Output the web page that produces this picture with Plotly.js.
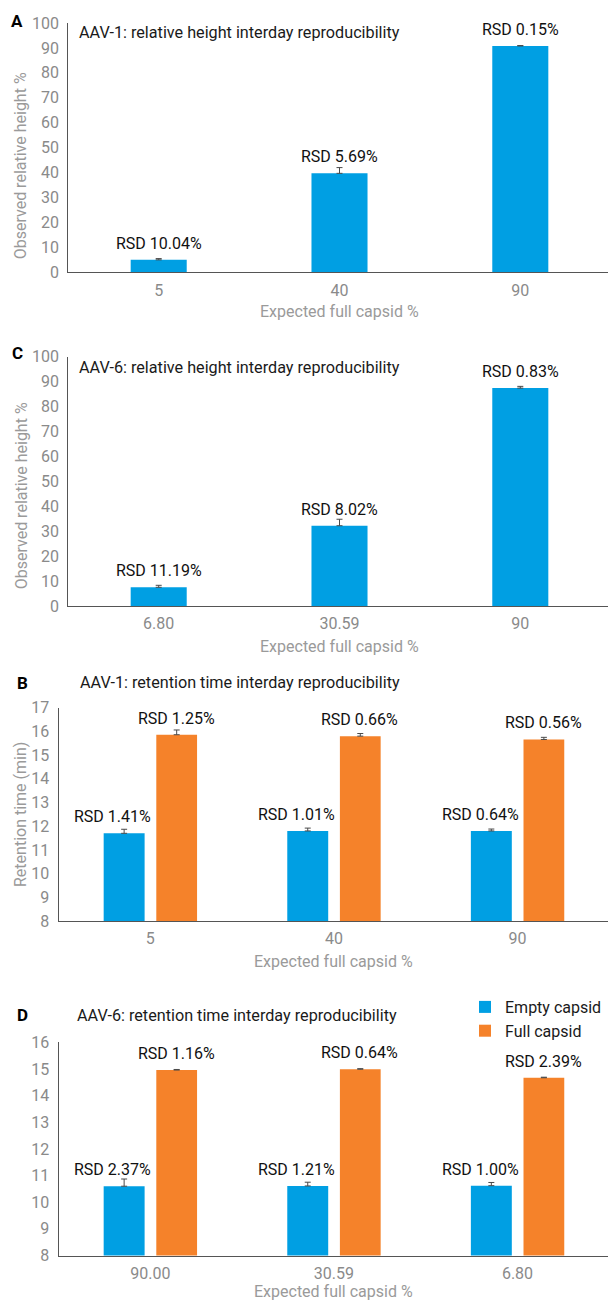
<!DOCTYPE html>
<html>
<head>
<meta charset="utf-8">
<script src="https://cdn.plot.ly/plotly-3.0.1.min.js"></script>
<style>html,body{margin:0;padding:0;background:#fff;}#chart{width:608px;height:1302px;}</style>
</head>
<body>
<div id="chart"></div>
<script>
// ---------- Data ----------
// Panel A: AAV-1 relative height
const categoriesA = ['5', '40', '90'];
const heightA = [5.0, 39.7, 90.8];
const errA = [0.5, 2.3, 0.15];
const rsdA = ['10.04', '5.69', '0.15'];

// Panel C: AAV-6 relative height
const categoriesC = ['6.80', '30.59', '90'];
const heightC = [7.5, 32.2, 87.4];
const errC = [0.8, 2.6, 0.7];
const rsdC = ['11.19', '8.02', '0.83'];

// Panel B: AAV-1 retention time
const categoriesB = ['5', '40', '90'];
const emptyB = [11.7, 11.8, 11.8];
const fullB = [15.86, 15.8, 15.66];
const errEmptyB = [0.17, 0.12, 0.08];
const errFullB = [0.2, 0.11, 0.09];
const rsdEmptyB = ['1.41', '1.01', '0.64'];
const rsdFullB = ['1.25', '0.66', '0.56'];

// Panel D: AAV-6 retention time
const categoriesD = ['90.00', '30.59', '6.80'];
const emptyD = [10.6, 10.61, 10.62];
const fullD = [14.96, 14.99, 14.67];
const errEmptyD = [0.27, 0.14, 0.12];
const errFullD = [0.02, 0.02, 0.02];
const rsdEmptyD = ['2.37', '1.21', '1.00'];
const rsdFullD = ['1.16', '0.64', '2.39'];

// ---------- Styling ----------
const W = 608, H = 1302;
const px = p => p / W;
const py = p => 1 - p / H;
const BLUE = '#009fe3';
const ORANGE = '#f5822a';
const FONT = 'Roboto, "Noto Sans", Arial, sans-serif';
const TICKC = '#8a8a8a';
const TITLEC = '#9a9a9a';
const AXC = '#555555';
const errStyle = (arr) => ({type: 'data', symmetric: false, array: arr, arrayminus: arr.map(() => 0), color: '#4a4a4a', thickness: 1, width: 3});
const rsdFont = {family: FONT, size: 16, color: '#111'};

const traces = [];
const ann = [];

function singlePanel(cats, vals, errs, rsd, xa, ya) {
  traces.push({type: 'bar', x: cats, y: vals, xaxis: xa, yaxis: ya, marker: {color: BLUE}, width: 0.31, offset: -0.155, error_y: errStyle(errs), showlegend: false});
  cats.forEach((c, i) => ann.push({xref: xa, yref: ya, x: i, y: vals[i], text: 'RSD ' + rsd[i] + '%', showarrow: false, yshift: 16.5, xanchor: 'center', yanchor: 'middle', font: rsdFont}));
}
function pairPanel(cats, e, f, ee, ef, re, rf, xa, ya, legend) {
  traces.push({type: 'bar', name: 'Empty capsid', x: cats, y: e, xaxis: xa, yaxis: ya, marker: {color: BLUE}, width: 0.223, offset: -0.254, error_y: errStyle(ee), showlegend: legend, legendgroup: 'e'});
  traces.push({type: 'bar', name: 'Full capsid', x: cats, y: f, xaxis: xa, yaxis: ya, marker: {color: ORANGE}, width: 0.222, offset: 0.0327, error_y: errStyle(ef), showlegend: legend, legendgroup: 'f'});
  cats.forEach((c, i) => {
    ann.push({xref: xa, yref: ya, x: i, y: e[i], text: 'RSD ' + re[i] + '%', showarrow: false, xshift: -37.5, yshift: 16.5, xanchor: 'center', yanchor: 'middle', font: rsdFont});
    ann.push({xref: xa, yref: ya, x: i, y: f[i], text: 'RSD ' + rf[i] + '%', showarrow: false, xshift: 26, yshift: 16.5, xanchor: 'center', yanchor: 'middle', font: rsdFont});
  });
}
singlePanel(categoriesA, heightA, errA, rsdA, 'x', 'y');
singlePanel(categoriesC, heightC, errC, rsdC, 'x2', 'y2');
pairPanel(categoriesB, emptyB, fullB, errEmptyB, errFullB, rsdEmptyB, rsdFullB, 'x3', 'y3', false);
pairPanel(categoriesD, emptyD, fullD, errEmptyD, errFullD, rsdEmptyD, rsdFullD, 'x4', 'y4', true);

function xax(anchor, left, span) {
  return {anchor: anchor, domain: [px(left), 1], type: 'category', range: [-0.5, -0.5 + (W - left) / span],
    showline: true, linecolor: AXC, linewidth: 1, ticks: '', showgrid: false, zeroline: false, fixedrange: true,
    tickfont: {family: FONT, size: 16, color: TICKC}, ticklabelstandoff: 3};
}
function yax(anchor, top, bottom, range, dtick) {
  return {anchor: anchor, domain: [py(bottom), py(top)], range: range, dtick: dtick, tick0: range[0],
    showline: true, linecolor: AXC, linewidth: 1, ticks: '', showgrid: false, zeroline: false, fixedrange: true,
    tickfont: {family: FONT, size: 16, color: TICKC}, ticklabelstandoff: 5};
}

// Text annotations (panel letters, titles, axis titles)
function label(x, y, text, opts) {
  ann.push(Object.assign({xref: 'paper', yref: 'paper', x: px(x), y: py(y), text: text, showarrow: false, xanchor: 'center', yanchor: 'middle'}, opts));
}
const letterFont = {family: FONT, size: 17, color: '#000'};
const titleFont = {family: FONT, size: 16.2, color: '#1a1a1a'};
const axFont = {family: FONT, size: 16, color: TITLEC};

label(16.7, 20.8, '<b>A</b>', {font: letterFont});
label(76.7, 33, 'AAV-1: relative height interday reproducibility', {xanchor: 'left', font: titleFont});
label(21.3, 166, 'Observed relative height %', {textangle: -90, font: axFont});
label(339.3, 311.5, 'Expected full capsid %', {font: axFont});

label(17.4, 353, '<b>C</b>', {font: letterFont});
label(76.7, 367.7, 'AAV-6: relative height interday reproducibility', {xanchor: 'left', font: titleFont});
label(21.3, 496, 'Observed relative height %', {textangle: -90, font: axFont});
label(339.3, 647, 'Expected full capsid %', {font: axFont});

label(22.5, 682.7, '<b>B</b>', {font: letterFont});
label(77.5, 682.7, 'AAV-1: retention time interday reproducibility', {xanchor: 'left', font: titleFont});
label(20, 815, 'Retention time (min)', {textangle: -90, font: axFont});
label(333.8, 961.7, 'Expected full capsid %', {font: axFont});

label(22, 1015, '<b>D</b>', {font: letterFont});
label(74.8, 1015, 'AAV-6: retention time interday reproducibility', {xanchor: 'left', font: titleFont});
label(333.8, 1291.5, 'Expected full capsid %', {font: axFont});

const layout = {
  width: W, height: H,
  margin: {l: 0, r: 0, t: 0, b: 0, pad: 0},
  paper_bgcolor: '#fff', plot_bgcolor: '#fff',
  barmode: 'overlay',
  font: {family: FONT},
  xaxis: xax('y', 68.3, 180.8),
  yaxis: yax('x', 23, 272.3, [0, 100], 10),
  xaxis2: xax('y2', 68.3, 180.8),
  yaxis2: yax('x2', 356.7, 606, [0, 100], 10),
  xaxis3: xax('y3', 58.5, 183.6),
  yaxis3: yax('x3', 707.7, 921, [8, 17], 1),
  xaxis4: xax('y4', 58.5, 183.6),
  yaxis4: yax('x4', 1042.3, 1255.5, [8, 16], 1),
  legend: {x: px(465), y: py(990), xanchor: 'left', yanchor: 'top', bgcolor: 'rgba(0,0,0,0)',
    font: {family: FONT, size: 16, color: '#1a1a1a'}, itemclick: false, itemdoubleclick: false, tracegroupgap: 0},
  annotations: ann,
  showlegend: true
};

Plotly.newPlot('chart', traces, layout, {staticPlot: true, displayModeBar: false});
</script>
</body>
</html>
